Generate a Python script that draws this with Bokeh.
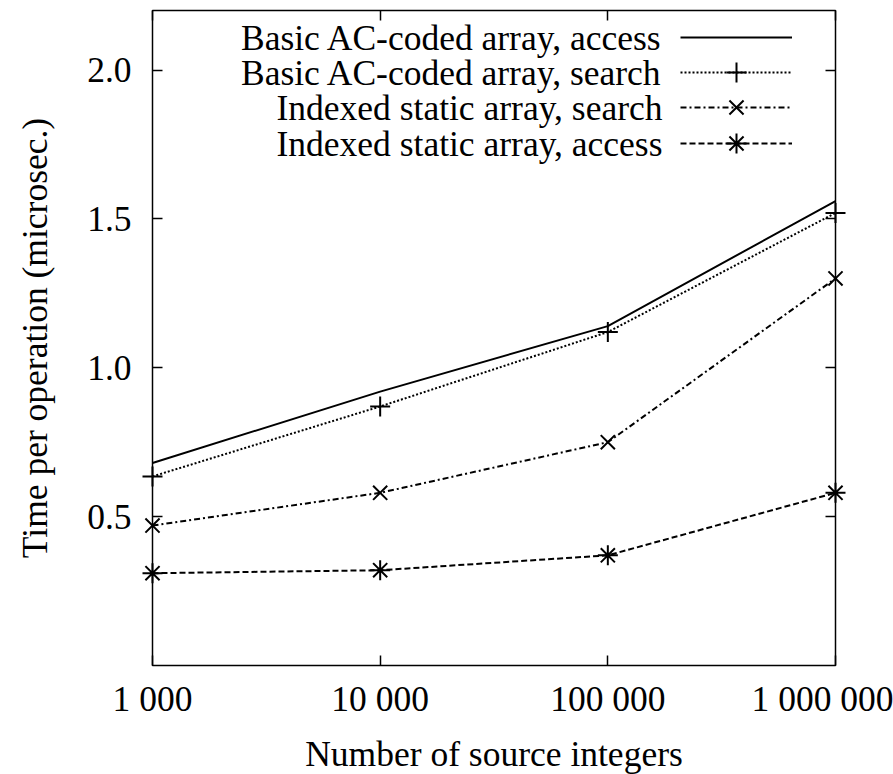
import math
from bokeh.plotting import figure
from bokeh.models import (LogAxis, LinearAxis, FixedTicker, CustomJSTickFormatter,
                          PrintfTickFormatter, Legend, LegendItem, Label, Range1d,
                          BoxAnnotation)
from bokeh.embed import file_html
from bokeh.resources import INLINE

# ---- data ----
sizes = [1000, 10000, 100000, 1000000]
x_tick_labels = ["1 000", "10 000", "100 000", "1 000 000"]
y_ticks = [0.5, 1.0, 1.5, 2.0]
basic_access = [0.68, 0.92, 1.14, 1.56]
basic_search = [0.635, 0.87, 1.12, 1.52]
indexed_search = [0.47, 0.58, 0.75, 1.30]
indexed_access = [0.31, 0.32, 0.37, 0.58]
series_names = ["Basic AC-coded array, access",
                "Basic AC-coded array, search",
                "Indexed static array, search",
                "Indexed static array, access"]
x_title = "Number of source integers"
y_title = "Time per operation (microsec.)"
y_min, y_max = 0.0, 2.2

FONT = "Liberation Serif"
FS = "35.5px"

# layout: visible box 683x655 px at (152, 10); frame padded so edge markers are not clipped
BOX_L, BOX_T, BOX_W, BOX_H = 152, 10, 683, 655
PADX, PADY = 12, 3
decades = math.log10(sizes[-1]) - math.log10(sizes[0])
pad_dec = PADX / BOX_W * decades
x_lo = 10 ** (math.log10(sizes[0]) - pad_dec)
x_hi = 10 ** (math.log10(sizes[-1]) + pad_dec)
pad_y = PADY / BOX_H * (y_max - y_min)

FL = BOX_L - PADX            # frame left (canvas px)
FB = BOX_T + BOX_H + PADY    # frame bottom (canvas px)

p = figure(frame_width=BOX_W + 2 * PADX, frame_height=BOX_H + 2 * PADY, x_axis_type="log",
           x_range=Range1d(x_lo, x_hi), y_range=Range1d(y_min - pad_y, y_max + pad_y),
           output_backend="svg", toolbar_location=None,
           min_border_left=FL, min_border_right=893 - FL - (BOX_W + 2 * PADX),
           min_border_top=BOX_T - PADY, min_border_bottom=774 - FB)
p.xgrid.grid_line_color = None
p.ygrid.grid_line_color = None
p.outline_line_color = None
p.background_fill_color = "white"
p.border_fill_color = "white"

xfmt = CustomJSTickFormatter(args=dict(vals=sizes, labs=x_tick_labels), code="""
const i = vals.findIndex(v => Math.abs(v - tick) < 1e-6 * v);
return i >= 0 ? labs[i] : "";
""")
empty_fmt = CustomJSTickFormatter(code="return '';")

def style_axis(ax):
    ax.axis_line_color = None
    ax.major_tick_line_color = None
    ax.minor_tick_line_color = None
    ax.major_label_text_font = FONT
    ax.major_label_text_font_size = FS
    ax.major_label_text_color = "black"
    ax.axis_label_text_font = FONT
    ax.axis_label_text_font_size = FS
    ax.axis_label_text_font_style = "normal"
    ax.axis_label_text_color = "black"

def tick_axis(ax):
    ax.axis_line_color = None
    ax.major_tick_line_color = "black"
    ax.major_tick_line_width = 1.5
    ax.major_tick_in = 10
    ax.major_tick_out = 0
    ax.minor_tick_line_color = None
    ax.major_label_standoff = 0
    ax.major_label_text_font_size = "1px"

# label-only axes (at frame edges)
xa = p.xaxis[0]
style_axis(xa)
xa.ticker = FixedTicker(ticks=sizes)
xa.formatter = xfmt
xa.major_label_standoff = 4
xa.axis_label = x_title
xa.axis_label_standoff = 12

ya = p.yaxis[0]
style_axis(ya)
ya.ticker = FixedTicker(ticks=y_ticks)
ya.formatter = PrintfTickFormatter(format="%.1f")
ya.major_label_standoff = 3
ya.axis_label = y_title
ya.axis_label_standoff = 29

# tick-only axes, fixed on the box edges
for ax, side in [
    (LogAxis(ticker=FixedTicker(ticks=sizes), formatter=empty_fmt, fixed_location=y_min), "below"),
    (LogAxis(ticker=FixedTicker(ticks=sizes), formatter=empty_fmt, fixed_location=y_max), "above"),
    (LinearAxis(ticker=FixedTicker(ticks=y_ticks), formatter=empty_fmt, fixed_location=sizes[0]), "left"),
    (LinearAxis(ticker=FixedTicker(ticks=y_ticks), formatter=empty_fmt, fixed_location=sizes[-1]), "right"),
]:
    tick_axis(ax)
    p.add_layout(ax, side)

# plot box
p.add_layout(BoxAnnotation(left=sizes[0], right=sizes[-1], bottom=y_min, top=y_max,
                           fill_color=None, fill_alpha=0, line_color="black",
                           line_width=1.5, line_alpha=1))

# ---- series ----
styles = [
    (basic_access, "solid", None),
    (basic_search, "2 2", "cross"),
    (indexed_search, "6 3 2 3", "x"),
    (indexed_access, "6 3", "asterisk"),
]
row_y = [37, 72, 107, 143]
for (vals, dash, marker), name, cy in zip(styles, series_names, row_y):
    rs = [p.line(sizes, vals, line_color="black", line_width=2, line_dash=dash)]
    if marker:
        rs.append(p.scatter(sizes, vals, marker=marker, size=20, line_color="black",
                            line_width=2, fill_color=None))
    lg = Legend(items=[LegendItem(label=" ", renderers=rs)],
                location=(680 - FL, FB - (cy + 25)),
                glyph_width=112, glyph_height=50, spacing=0, padding=0, margin=0,
                label_width=0, label_standoff=0, label_height=1,
                label_text_font_size="1px", background_fill_alpha=0,
                border_line_color=None)
    p.add_layout(lg)
    p.add_layout(Label(x=662 - FL, y=FB - cy, x_units="screen", y_units="screen",
                       text=name, text_align="right", text_baseline="middle",
                       text_font=FONT, text_font_size=FS, text_color="black"))

open("out.html", "w").write(file_html(p, INLINE))
